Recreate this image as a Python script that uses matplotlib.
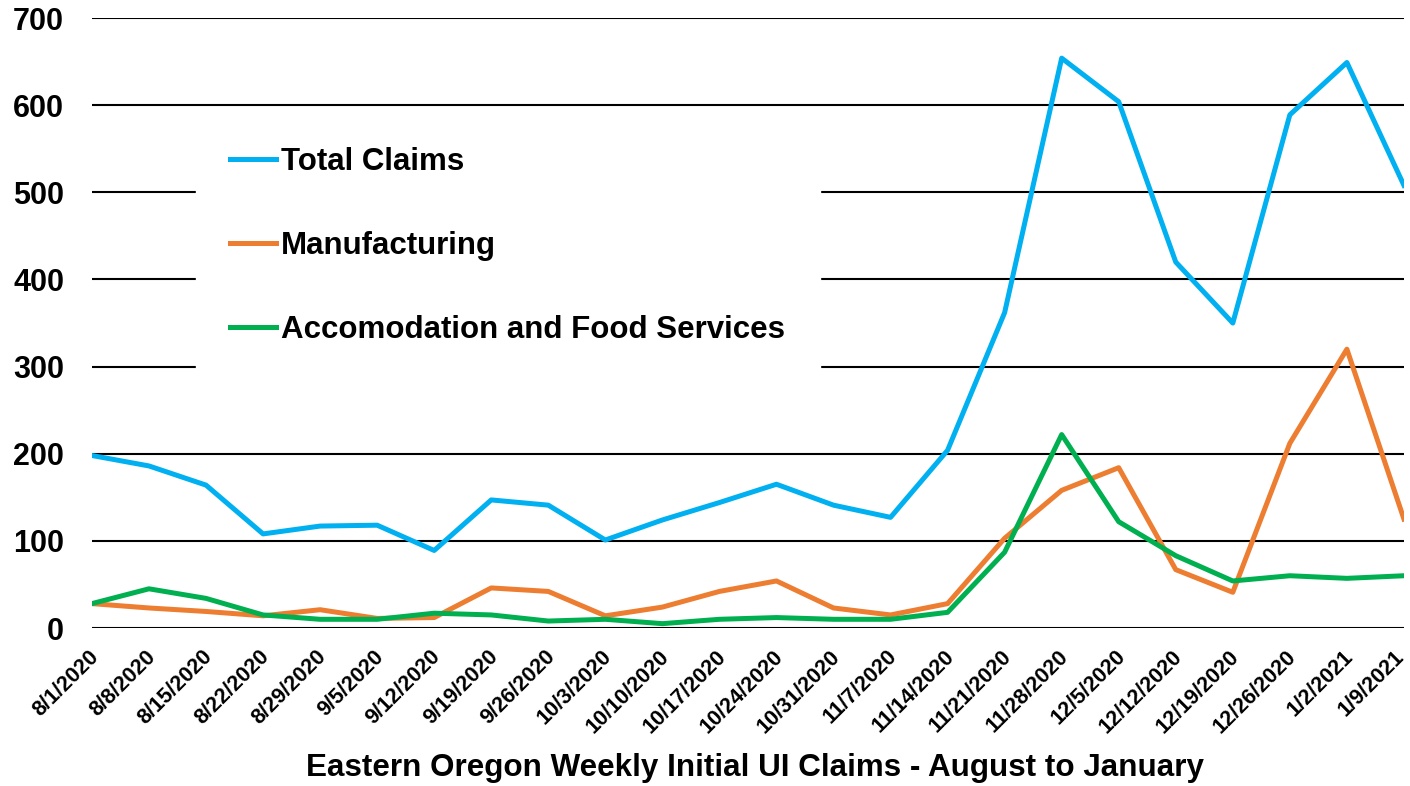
from matplotlib import pyplot as plt
from matplotlib.transforms import ScaledTranslation

# Week labels on the x axis
weeks = ["8/1/2020", "8/8/2020", "8/15/2020", "8/22/2020", "8/29/2020", "9/5/2020",
         "9/12/2020", "9/19/2020", "9/26/2020", "10/3/2020", "10/10/2020", "10/17/2020",
         "10/24/2020", "10/31/2020", "11/7/2020", "11/14/2020", "11/21/2020", "11/28/2020",
         "12/5/2020", "12/12/2020", "12/19/2020", "12/26/2020", "1/2/2021", "1/9/2021"]

# Weekly claims per series
total_claims = [198, 186, 164, 108, 117, 118, 89, 147, 141, 101, 124, 144,
                165, 141, 127, 204, 362, 654, 604, 420, 350, 589, 649, 508]
manufacturing = [28, 23, 19, 14, 21, 11, 12, 46, 42, 14, 24, 42,
                 54, 23, 15, 28, 103, 158, 184, 67, 41, 212, 320, 125]
accomodation = [28, 45, 34, 15, 10, 10, 17, 15, 8, 10, 5, 10,
                12, 10, 10, 18, 87, 222, 122, 83, 54, 60, 57, 60]

y_ticks = [0, 100, 200, 300, 400, 500, 600, 700]

plt.rcParams['font.family'] = ['Liberation Sans', 'DejaVu Sans']
plt.rcParams['font.weight'] = 'bold'

fig = plt.figure(figsize=(14.1, 7.86), dpi=100)
ax = fig.add_axes([0.0652, 0.201, 0.9305, 0.776])

x = list(range(len(weeks)))

# Plotting the three series
ax.plot(x, total_claims, color='#00B0F0', linewidth=3.6, label='Total Claims', zorder=3)
ax.plot(x, manufacturing, color='#ED7D31', linewidth=3.6, label='Manufacturing', zorder=3)
ax.plot(x, accomodation, color='#00B050', linewidth=3.6, label='Accomodation and Food Services', zorder=3)

# Axis limits and ticks
ax.set_xlim(0, len(weeks) - 1)
ax.set_ylim(0, 700)
ax.set_yticks(y_ticks)
ax.set_yticklabels([str(v) for v in y_ticks], fontsize=22, fontweight='bold')
ax.set_xticks(x)
ax.set_xticklabels(weeks, fontsize=15.5, fontweight='bold', rotation=45,
                   ha='right', va='top', rotation_mode='anchor')
ax.tick_params(axis='x', length=0, pad=13)
ax.tick_params(axis='y', length=0, pad=20)

# Shift the date labels a bit left so the last one stays inside the figure
# (done after tick_params, which resets the label transforms)
offset = ScaledTranslation(-0.04, 0, fig.dpi_scale_trans)
last_offset = ScaledTranslation(-0.1, 0, fig.dpi_scale_trans)
tick_labels = ax.get_xticklabels()
for label in tick_labels[:-1]:
    label.set_transform(label.get_transform() + offset)
tick_labels[-1].set_transform(tick_labels[-1].get_transform() + last_offset)

# Gridlines and frame
ax.grid(axis='y', color='black', linewidth=1.5, zorder=1)
ax.set_axisbelow(True)
for spine in ax.spines.values():
    spine.set_visible(False)

# Legend in a white box over the gridlines
legend = ax.legend(loc='upper left', bbox_to_anchor=(0.0793, 0.845), borderaxespad=0,
                   frameon=True, fancybox=False, framealpha=1, edgecolor='white',
                   prop={'size': 22.5, 'weight': 'bold'}, handlelength=1.45,
                   handletextpad=0.18, labelspacing=1.73, borderpad=1.1)
legend.set_zorder(4)

# Bottom title
fig.text(755 / 1410, 1 - 768 / 786, 'Eastern Oregon Weekly Initial UI Claims - August to January',
         fontsize=22.6, fontweight='bold', ha='center', va='center')

fig.savefig('out.png', dpi=100)
